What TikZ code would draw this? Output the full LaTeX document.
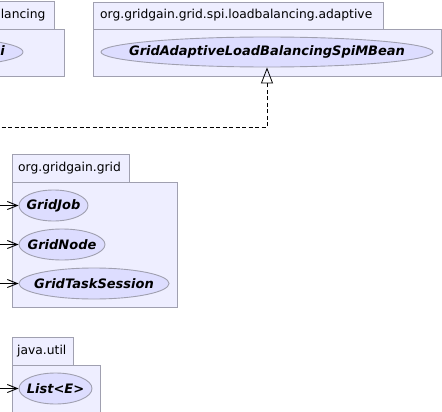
\documentclass[tikz,border=0pt]{standalone}
\usepackage{fontspec}
\setmainfont{DejaVu Sans}
\usetikzlibrary{shapes.geometric,arrows.meta}
\definecolor{pkgfill}{RGB}{238,238,255}
\definecolor{pkgline}{RGB}{160,160,176}
\definecolor{clsfill}{RGB}{221,221,255}
\begin{document}
\begin{tikzpicture}[x=1pt,y=-1pt,
  pkg/.style={draw=pkgline, fill=pkgfill, line width=0.9pt, inner sep=0pt, anchor=north west},
  pkglabel/.style={font=\fontsize{12.3}{14}\selectfont, text=black, inner sep=0pt},
  cls/.style={ellipse, draw=pkgline, fill=clsfill, line width=0.9pt, inner sep=0pt},
  clstext/.style={inner sep=0pt, font=\fontsize{13}{15}\selectfont\bfseries\itshape},
  dep/.style={line width=0.8pt, -{Straight Barb[length=10pt,width=8pt,line width=0.9pt]}},
  impl/.style={line width=0.8pt, dashed, dash pattern=on 4pt off 2.5pt, -{Triangle[open,length=16pt,width=12pt,line width=0.8pt]}}
]
\clip (0,0) rectangle (442,412);
\fill[white] (0,0) rectangle (442,412);

% top-left package (clipped)
\node[pkg, minimum width=120pt, minimum height=28pt] (lbtab) at (-66,1) {};
\node[pkg, minimum width=130pt, minimum height=47pt] (lbbody) at (-66,29) {};
\node[pkglabel, anchor=east] (lblabel) at (45.5,15.5) {org.gridgain.grid.spi.loadbalancing};
\node[cls, minimum width=196pt, minimum height=30pt] (lbspi) at (-75,52) {};
\node[clstext, anchor=east] (lbspit) at (5,52) {GridLoadBalancingSpi};

% adaptive package
\node[pkg, minimum width=290pt, minimum height=27pt] (adtab) at (93,2) {};
\node[pkg, minimum width=348pt, minimum height=47pt] (adbody) at (93,29) {};
\node[pkglabel, anchor=west] (adlabel) at (100,15.5) {org.gridgain.grid.spi.loadbalancing.adaptive};
\node[cls, minimum width=332pt, minimum height=30pt] (admbean) at (267,52) {};
\node[clstext] (admbeant) at (admbean) {GridAdaptiveLoadBalancingSpiMBean};

% org.gridgain.grid package
\node[pkg, minimum width=117pt, minimum height=28pt] (gtab) at (12,154) {};
\node[pkg, minimum width=165pt, minimum height=125pt] (gbody) at (12,182) {};
\node[pkglabel, anchor=west] (glabel) at (18,168) {org.gridgain.grid};
\node[cls, minimum width=69pt, minimum height=31pt] (gjob) at (53.5,205.5) {};
\node[clstext] (gjobt) at (gjob) {GridJob};
\node[cls, minimum width=86pt, minimum height=31pt] (gnode) at (62,244.5) {};
\node[clstext] (gnodet) at (gnode) {GridNode};
\node[cls, minimum width=150pt, minimum height=31pt] (gtask) at (94,283.5) {};
\node[clstext] (gtaskt) at (gtask) {GridTaskSession};

% java.util package
\node[pkg, minimum width=61pt, minimum height=28pt] (jtab) at (12,337) {};
\node[pkg, minimum width=88pt, minimum height=60pt] (jbody) at (12,365) {};
\node[pkglabel, anchor=west] (jlabel) at (17,351) {java.util};
\node[cls, minimum width=73pt, minimum height=31pt] (jlist) at (55.5,388.5) {};
\node[clstext] (jlistt) at (jlist) {List<E>};

% connectors
\coordinate (c1) at (-5,205.5);
\coordinate (c2) at (-5,244.5);
\coordinate (c3) at (-5,283.5);
\coordinate (c4) at (-5,388.5);
\coordinate (c5) at (-5,127);
\draw[dep] (c1) -- (gjob.west);
\draw[dep] (c2) -- (gnode.west);
\draw[dep] (c3) -- (gtask.west);
\draw[dep] (c4) -- (jlist.west);
\draw[impl] (c5) -| (admbean.south);
\end{tikzpicture}
\end{document}
